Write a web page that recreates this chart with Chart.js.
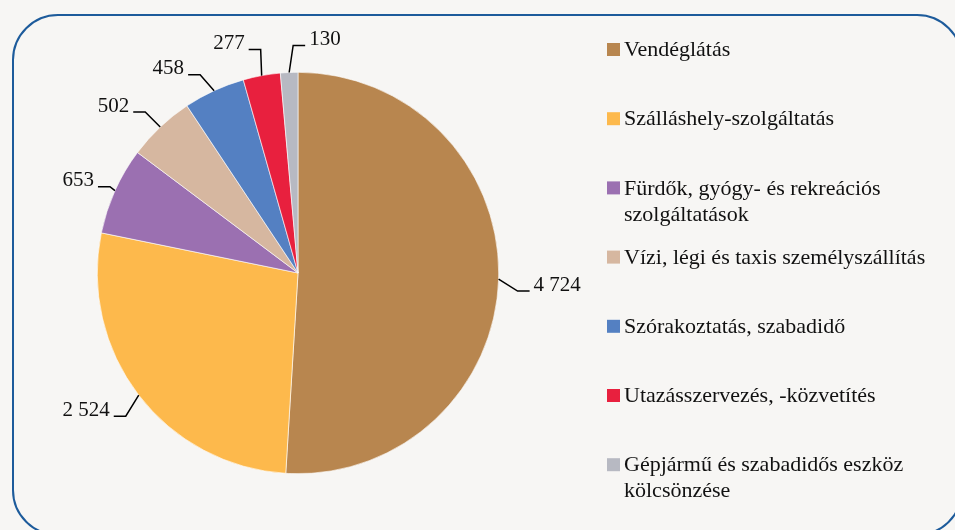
<!DOCTYPE html>
<html>
<head>
<meta charset="utf-8">
<script src="https://cdn.jsdelivr.net/npm/chart.js@4/dist/chart.umd.min.js"></script>
<style>
  html, body { margin: 0; padding: 0; background: #f7f6f4; }
  #wrap { position: relative; width: 955px; height: 530px; overflow: hidden; }
  #frame {
    position: absolute; left: 12px; top: 14px; width: 947px; height: 518px;
    border: 2px solid #1d5b9b; border-radius: 46px; pointer-events: none;
  }
  canvas { position: absolute; left: 0; top: 0; }
</style>
</head>
<body>
<div id="wrap">
  <canvas id="chart" width="955" height="530"></canvas>
  <div id="frame"></div>
</div>
<script>
// Categories and values
var categories = [
    'Vendéglátás',
    'Szálláshely-szolgáltatás',
    ['Fürdők, gyógy- és rekreációs', 'szolgáltatások'],
    'Vízi, légi és taxis személyszállítás',
    'Szórakoztatás, szabadidő',
    'Utazásszervezés, -közvetítés',
    ['Gépjármű és szabadidős eszköz', 'kölcsönzése']
];
var values = [4724, 2524, 653, 502, 458, 277, 130];
var colors = ['#b8864f', '#fdb94c', '#9b70b1', '#d6b7a0', '#5480c2', '#e8203e', '#b7b9c2'];

// leader line elbow offsets from the slice edge, and which side the label sits on
var leaderOffsets = [[19, 12], [-13, 21], [-5, -4], [-15, -15], [-14, -16], [-1, -26], [4, -27]];
var leaderSide = [1, -1, -1, -1, -1, -1, 1];

function fmt(v) {
    return String(v).replace(/\B(?=(\d{3})+(?!\d))/g, ' ');
}

var serif = '"Liberation Serif", "DejaVu Serif", serif';

// Draw leader lines and value labels
var leaderLabels = {
    id: 'leaderLabels',
    afterDatasetsDraw: function(chart) {
        var ctx = chart.ctx;
        var meta = chart.getDatasetMeta(0);
        ctx.save();
        ctx.strokeStyle = '#000';
        ctx.lineWidth = 1.5;
        ctx.fillStyle = '#111';
        ctx.font = '21px ' + serif;
        ctx.textBaseline = 'middle';
        meta.data.forEach(function(arc, i) {
            var p = arc.getProps(['x', 'y', 'startAngle', 'endAngle', 'outerRadius'], true);
            var mid = (p.startAngle + p.endAngle) / 2;
            var ex = p.x + Math.cos(mid) * p.outerRadius;
            var ey = p.y + Math.sin(mid) * p.outerRadius;
            var bx = ex + leaderOffsets[i][0];
            var by = ey + leaderOffsets[i][1];
            var side = leaderSide[i];
            var hx = bx + side * 12;
            ctx.beginPath();
            ctx.moveTo(ex, ey);
            ctx.lineTo(bx, by);
            ctx.lineTo(hx, by);
            ctx.stroke();
            ctx.textAlign = side > 0 ? 'left' : 'right';
            ctx.fillText(fmt(values[i]), hx + side * 4, by - 6);
        });
        ctx.restore();
    }
};

// Legend on the right, spaced like the original
var sideLegend = {
    id: 'sideLegend',
    afterDraw: function(chart) {
        var ctx = chart.ctx;
        ctx.save();
        ctx.font = '22px ' + serif;
        ctx.textBaseline = 'middle';
        ctx.textAlign = 'left';
        categories.forEach(function(label, i) {
            var y = 49.5 + i * 69.2;
            ctx.fillStyle = colors[i];
            ctx.fillRect(607, y - 6.5, 13, 13);
            ctx.fillStyle = '#111';
            var lines = Array.isArray(label) ? label : [label];
            lines.forEach(function(line, j) {
                ctx.fillText(line, 624, y + 1 + j * 26);
            });
        });
        ctx.restore();
    }
};

var ctx = document.getElementById('chart').getContext('2d');
new Chart(ctx, {
    type: 'pie',
    data: {
        labels: categories,
        datasets: [{
            data: values,
            backgroundColor: colors,
            borderColor: '#ffffff',
            borderWidth: 0.6
        }]
    },
    options: {
        responsive: false,
        animation: false,
        layout: { padding: { left: 97, right: 456, top: 72, bottom: 56 } },
        plugins: {
            legend: { display: false },
            tooltip: { enabled: false }
        }
    },
    plugins: [leaderLabels, sideLegend]
});
</script>
</body>
</html>
